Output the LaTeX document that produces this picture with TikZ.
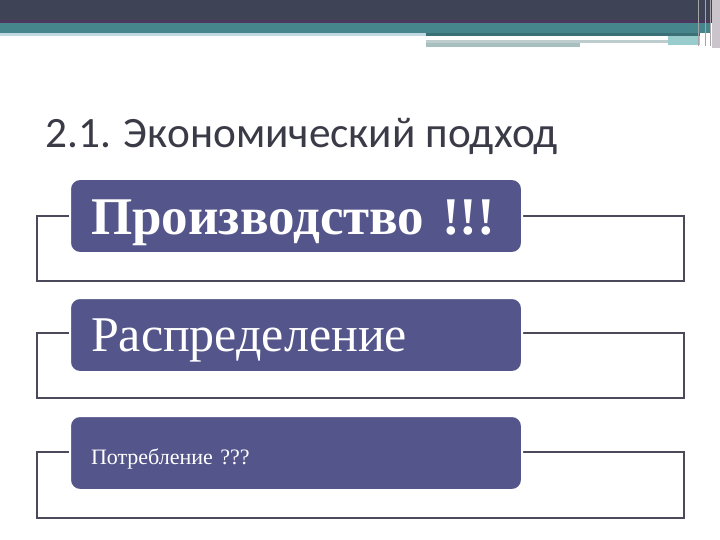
\documentclass[tikz,border=0pt]{standalone}
\usepackage{fontspec}
\setmainfont{Liberation Serif}
\newfontfamily\titlefont{Carlito}
\definecolor{bardark}{HTML}{3E4455}
\definecolor{barteal}{HTML}{45858B}
\definecolor{boxfill}{HTML}{54558A}
\definecolor{framecol}{HTML}{4B4A5A}
\definecolor{titlecol}{HTML}{3B3B48}
\tikzset{
  stepframe/.style={draw=framecol, line width=2pt},
  stepbox/.style={rectangle, rounded corners=10pt, fill=boxfill, draw=white, line width=2pt,
    text=white, minimum height=74pt, text width=410pt, inner xsep=21pt, align=left, text depth=0pt}
}
\begin{document}
\begin{tikzpicture}[x=1pt, y=-1pt]
  \useasboundingbox (0,0) rectangle (720,540);
  \fill [white] (0,0) rectangle (720,540);

  % header bars
  \fill [bardark] (0,0) rectangle (712,23);
  \fill [color=bardark!80!violet] (0,20) rectangle (712,23);
  \fill [barteal] (0,23) rectangle (710,33);
  \fill [color=barteal!85!black] (426,33) rectangle (700,36);
  \fill [color=gray!60!cyan!40!white] (0,33) rectangle (426,36);
  \fill [color=gray!70!teal!40!white] (426,40) rectangle (668,43);
  \fill [color=gray!60!teal!50!white] (426,43) rectangle (580,47);
  \fill [color=teal!40!white] (668,36) rectangle (700,45);
  \fill [color=violet!15!gray!40!white] (712,0) rectangle (720,48);
  \foreach \x in {698, 705, 710} {
    \draw [color=gray!70, line width=1pt] (\x,0) -- (\x,46);
  }

  \node [anchor=base west, font=\titlefont\fontsize{43.3}{52}\selectfont, text=titlecol, inner sep=0pt]
    (title) at (45,148) {2.1. Экономический подход};

  \foreach \top/\bot in {216/281, 333/398, 452/518} {
    \draw [stepframe] (37,\top) rectangle (684,\bot);
  }

  \node [stepbox, anchor=north west, text height=36pt, font=\bfseries\fontsize{53}{60}\selectfont] (prod) at (69,178) {Производство !!!};
  \node [stepbox, anchor=north west, text height=33pt, font=\fontsize{50}{58}\selectfont] (distr) at (69,297) {Распределение};
  \node [stepbox, anchor=north west, text height=23pt, font=\fontsize{22}{26}\selectfont] (cons) at (69,415) {Потребление ???};
\end{tikzpicture}
\end{document}
